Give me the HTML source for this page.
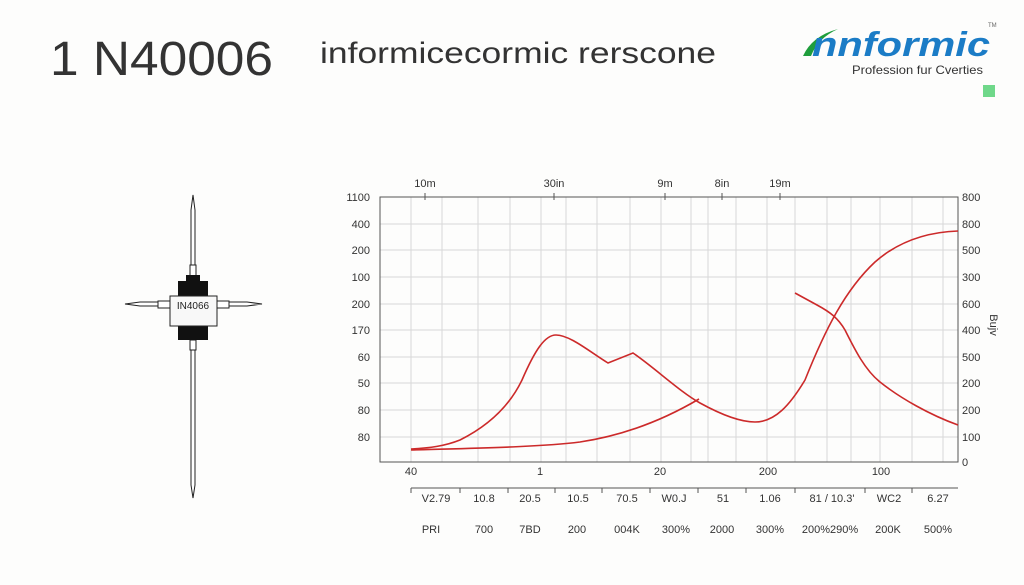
<!DOCTYPE html>
<html><head><meta charset="utf-8"><style>
html,body{margin:0;padding:0;background:#fdfdfc;}
svg{display:block;font-family:"Liberation Sans",sans-serif;}
</style></head><body>
<svg width="1024" height="585" viewBox="0 0 1024 585" xmlns="http://www.w3.org/2000/svg">
<rect width="1024" height="585" fill="#fdfdfc"/>
<text x="50" y="75" font-size="48" fill="#333" textLength="223" lengthAdjust="spacingAndGlyphs">1 N40006</text>
<text x="320" y="63" font-size="30" fill="#333" textLength="396" lengthAdjust="spacingAndGlyphs">informicecormic rerscone</text>
<!-- logo -->
<path d="M803 56 Q812 36 838 29 Q818 38 811 56 Z" fill="#1f9e3c"/>
<text x="812" y="56" font-size="34" font-weight="bold" font-style="italic" fill="#1b7cc6" textLength="178" lengthAdjust="spacingAndGlyphs">nnformic</text>
<text x="988" y="27" font-size="6" fill="#666">TM</text>
<text x="852" y="74" font-size="12" fill="#333" textLength="131" lengthAdjust="spacingAndGlyphs">Profession fur Cverties</text>
<rect x="983" y="85" width="12" height="12" fill="#6fd88a"/>
<!-- diode -->
<g stroke="#222" stroke-width="1" fill="#fff">
<path d="M193 195 L195 210 L195 265 L191 265 L191 210 Z"/>
<path d="M191 340 L195 340 L195 485 L193 498 L191 485 Z"/>
<path d="M125 304 L140 302 L160 302 L160 306 L140 306 Z"/>
<path d="M262 304 L247 302 L227 302 L227 306 L247 306 Z"/>
<rect x="190" y="265" width="6" height="12"/>
<rect x="158" y="301" width="12" height="7"/>
<rect x="217" y="301" width="12" height="7"/>
<rect x="190" y="340" width="6" height="10"/>
</g>
<rect x="186" y="275" width="14" height="8" fill="#111"/>
<rect x="178" y="281" width="30" height="16" fill="#111"/>
<rect x="178" y="324" width="30" height="16" fill="#111"/>
<rect x="170" y="296" width="47" height="30" fill="#f8f8f8" stroke="#222"/>
<text x="193" y="309" font-size="10" text-anchor="middle" fill="#222">IN4066</text>
<!-- grid -->
<g stroke="#d8d8d8" stroke-width="1">
<line x1="380" y1="224" x2="958" y2="224"/><line x1="380" y1="250" x2="958" y2="250"/>
<line x1="380" y1="277" x2="958" y2="277"/><line x1="380" y1="304" x2="958" y2="304"/>
<line x1="380" y1="330" x2="958" y2="330"/><line x1="380" y1="357" x2="958" y2="357"/>
<line x1="380" y1="383" x2="958" y2="383"/><line x1="380" y1="410" x2="958" y2="410"/>
<line x1="380" y1="437" x2="958" y2="437"/>
<line x1="411" y1="197" x2="411" y2="462"/><line x1="442" y1="197" x2="442" y2="462"/>
<line x1="478" y1="197" x2="478" y2="462"/><line x1="510" y1="197" x2="510" y2="462"/>
<line x1="541" y1="197" x2="541" y2="462"/><line x1="566" y1="197" x2="566" y2="462"/>
<line x1="597" y1="197" x2="597" y2="462"/><line x1="630" y1="197" x2="630" y2="462"/>
<line x1="661" y1="197" x2="661" y2="462"/><line x1="691" y1="197" x2="691" y2="462"/>
<line x1="708" y1="197" x2="708" y2="462"/><line x1="736" y1="197" x2="736" y2="462"/>
<line x1="767" y1="197" x2="767" y2="462"/><line x1="795" y1="197" x2="795" y2="462"/>
<line x1="827" y1="197" x2="827" y2="462"/><line x1="851" y1="197" x2="851" y2="462"/>
<line x1="880" y1="197" x2="880" y2="462"/><line x1="912" y1="197" x2="912" y2="462"/>
<line x1="943" y1="197" x2="943" y2="462"/>
</g>
<rect x="380" y="197" width="578" height="265" fill="none" stroke="#555" stroke-width="1"/>
<!-- top ticks -->
<g stroke="#555"><line x1="425" y1="193" x2="425" y2="200"/><line x1="554" y1="193" x2="554" y2="200"/><line x1="665" y1="193" x2="665" y2="200"/><line x1="722" y1="193" x2="722" y2="200"/><line x1="780" y1="193" x2="780" y2="200"/></g>
<g font-size="11" fill="#333" text-anchor="middle">
<text x="425" y="187">10m</text><text x="554" y="187">30in</text><text x="665" y="187">9m</text><text x="722" y="187">8in</text><text x="780" y="187">19m</text>
</g>
<g font-size="11" fill="#333" text-anchor="end">
<text x="370" y="201">1100</text><text x="370" y="228">400</text><text x="370" y="254">200</text><text x="370" y="281">100</text><text x="370" y="308">200</text><text x="370" y="334">170</text><text x="370" y="361">60</text><text x="370" y="387">50</text><text x="370" y="414">80</text><text x="370" y="441">80</text>
</g>
<g font-size="11" fill="#333">
<text x="962" y="201">800</text><text x="962" y="228">800</text><text x="962" y="254">500</text><text x="962" y="281">300</text><text x="962" y="308">600</text><text x="962" y="334">400</text><text x="962" y="361">500</text><text x="962" y="387">200</text><text x="962" y="414">200</text><text x="962" y="441">100</text><text x="962" y="466">0</text>
</g>
<text transform="translate(990,325) rotate(90)" font-size="11" fill="#333" text-anchor="middle">Bujv</text>
<g font-size="11" fill="#333" text-anchor="middle">
<text x="411" y="475">40</text><text x="540" y="475">1</text><text x="660" y="475">20</text><text x="768" y="475">200</text><text x="881" y="475">100</text>
</g>
<line x1="411" y1="488" x2="958" y2="488" stroke="#555"/>
<g stroke="#555"><line x1="411" y1="488" x2="411" y2="493"/><line x1="460" y1="488" x2="460" y2="493"/><line x1="508" y1="488" x2="508" y2="493"/><line x1="555" y1="488" x2="555" y2="493"/><line x1="602" y1="488" x2="602" y2="493"/><line x1="650" y1="488" x2="650" y2="493"/><line x1="698" y1="488" x2="698" y2="493"/><line x1="746" y1="488" x2="746" y2="493"/><line x1="795" y1="488" x2="795" y2="493"/><line x1="865" y1="488" x2="865" y2="493"/><line x1="912" y1="488" x2="912" y2="493"/></g>
<g font-size="11" fill="#333" text-anchor="middle">
<text x="436" y="502">V2.79</text><text x="484" y="502">10.8</text><text x="530" y="502">20.5</text><text x="578" y="502">10.5</text><text x="627" y="502">70.5</text><text x="674" y="502">W0.J</text><text x="723" y="502">51</text><text x="770" y="502">1.06</text><text x="832" y="502">81 / 10.3'</text><text x="889" y="502">WC2</text><text x="938" y="502">6.27</text>
<text x="431" y="533">PRI</text><text x="484" y="533">700</text><text x="530" y="533">7BD</text><text x="577" y="533">200</text><text x="627" y="533">004K</text><text x="676" y="533">300%</text><text x="722" y="533">2000</text><text x="770" y="533">300%</text><text x="830" y="533">200%290%</text><text x="888" y="533">200K</text><text x="938" y="533">500%</text>
</g>
<!-- curves -->
<g fill="none" stroke="#cc2a2a" stroke-width="1.6">
<path d="M411 449 C430 448 445 446 460 440 C490 425 510 405 522 380 C535 350 545 335 556 335 C570 335 590 352 608 363 L633 353 C655 368 680 392 700 403 C720 414 740 422 755 422 C775 422 790 405 805 380 C825 330 845 290 875 262 C900 240 930 232 958 231"/>
<path d="M411 450 C480 448 540 447 580 442 C620 436 660 422 699 399"/>
<path d="M795 293 L817 305 C830 312 838 318 845 330 C855 350 865 370 880 382 C900 398 930 415 958 425"/>
</g>
</svg>
</body></html>
